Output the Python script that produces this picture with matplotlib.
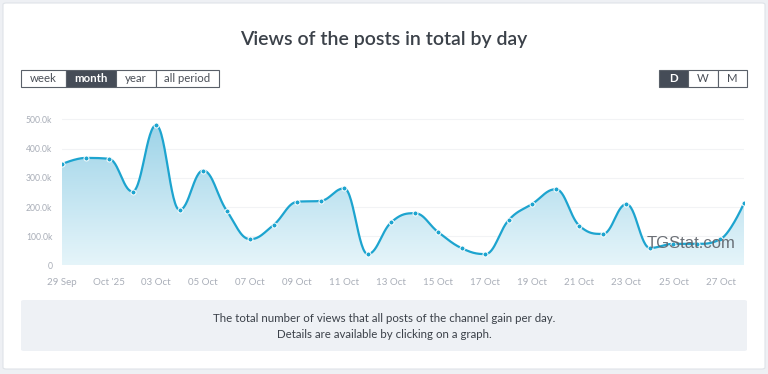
import numpy as np
import matplotlib
matplotlib.use("Agg")
import matplotlib.pyplot as plt
from matplotlib.patches import FancyBboxPatch, Rectangle, PathPatch
from matplotlib.path import Path

# ---- data ----
days = list(range(30))  # 29 Sep .. 28 Oct
views_k = [347, 368, 365, 253, 480, 190, 325, 188, 90, 139,
           218, 221, 264, 39, 148, 179, 114, 59, 39, 156,
           211, 261, 136, 108, 210, 60, 74, 74, 90, 213]
tick_days = [0, 2, 4, 6, 8, 10, 12, 14, 16, 18, 20, 22, 24, 26, 28]
tick_labels = ["29 Sep", "Oct '25", "03 Oct", "05 Oct", "07 Oct", "09 Oct", "11 Oct",
               "13 Oct", "15 Oct", "17 Oct", "19 Oct", "21 Oct", "23 Oct", "25 Oct", "27 Oct"]
y_ticks = [0, 100, 200, 300, 400, 500]
y_labels = ["0", "100.0k", "200.0k", "300.0k", "400.0k", "500.0k"]
period_buttons = ["week", "month", "year", "all period"]
scale_buttons = ["D", "W", "M"]

W, H = 768, 374
FONT = "Lato"
plt.rcParams['font.family'] = [FONT, 'DejaVu Sans']

fig = plt.figure(figsize=(W / 100, H / 100), dpi=100)
fig.patch.set_facecolor("#eef0f4")


def fx(x):
    return x / W


def fy(y):
    return 1 - y / H


# card
card = FancyBboxPatch((fx(3), fy(369)), fx(762), (366) / H,
                      boxstyle="round,pad=0,rounding_size=0.004",
                      transform=fig.transFigure, facecolor="white",
                      edgecolor="#dfe3e8", linewidth=0.8, zorder=-2)
fig.patches.append(card)

fig.text(0.5, fy(40), "Views of the posts in total by day", ha="center", va="center",
         fontsize=14, color="#3b4149", fontweight="semibold")


def button_row(edges, labels, active_label):
    for i, lab in enumerate(labels):
        active = (lab == active_label)
        r = Rectangle((fx(edges[i]), fy(87)), fx(edges[i + 1] - edges[i]), 17 / H,
                      transform=fig.transFigure,
                      facecolor="#454c57" if active else "white", edgecolor="#5a6069",
                      linewidth=0.8, zorder=-1)
        fig.patches.append(r)
        fig.text(fx((edges[i] + edges[i + 1]) / 2), fy(78.5), lab, ha="center", va="center",
                 fontsize=8.2, color="white" if active else "#4a4f57",
                 fontweight="bold" if active else "normal")


button_row([21, 66, 116, 156, 219], period_buttons, "month")
button_row([659, 688, 718, 747], scale_buttons, "D")

# info box
info = FancyBboxPatch((fx(21), fy(351)), fx(726), 51 / H,
                      boxstyle="round,pad=0,rounding_size=0.004",
                      transform=fig.transFigure, facecolor="#eef1f5",
                      edgecolor="none", zorder=-1)
fig.patches.append(info)
fig.text(0.5, fy(318), "The total number of views that all posts of the channel gain per day.",
         ha="center", va="center", fontsize=8.3, color="#3b4149")
fig.text(0.5, fy(334), "Details are available by clicking on a graph.",
         ha="center", va="center", fontsize=8.3, color="#3b4149")

# ---- chart ----
ax = fig.add_axes([fx(62), fy(265.5), fx(744 - 62), (265.5 - 110) / H])
ax.set_xlim(0, 29)
ax.set_ylim(0, 532)
ax.set_facecolor("none")
for s in ax.spines.values():
    s.set_visible(False)
ax.set_yticks(y_ticks)
ax.set_yticklabels(y_labels)
ax.set_xticks(tick_days)
ax.set_xticklabels(tick_labels)
ax.tick_params(axis="y", length=0, pad=7, labelsize=6.2, labelcolor="#a9aeb8")
ax.tick_params(axis="x", length=0, pad=9, labelsize=7, labelcolor="#a9aeb8")
for yt in y_ticks[1:]:
    ax.axhline(yt, color="#f2f3f5", linewidth=0.8, zorder=0)


# Highcharts-like spline
def spline_path(xs, ys, smoothing=1.5, n=30):
    xs = np.asarray(xs, float)
    ys = np.asarray(ys, float)
    N = len(xs)
    lc = [None] * N
    rc = [None] * N
    denom = smoothing + 1
    for i in range(1, N - 1):
        px_, py_ = xs[i], ys[i]
        lx, ly = xs[i - 1], ys[i - 1]
        nx, ny = xs[i + 1], ys[i + 1]
        lcx = (smoothing * px_ + lx) / denom
        lcy = (smoothing * py_ + ly) / denom
        rcx = (smoothing * px_ + nx) / denom
        rcy = (smoothing * py_ + ny) / denom
        corr = 0
        if rcx != lcx:
            corr = ((rcy - lcy) * (rcx - px_)) / (rcx - lcx) + py_ - rcy
        lcy += corr
        rcy += corr
        if lcy > ly and lcy > py_:
            lcy = max(ly, py_)
            rcy = 2 * py_ - lcy
        elif lcy < ly and lcy < py_:
            lcy = min(ly, py_)
            rcy = 2 * py_ - lcy
        if rcy > ny and rcy > py_:
            rcy = max(ny, py_)
            lcy = 2 * py_ - rcy
        elif rcy < ny and rcy < py_:
            rcy = min(ny, py_)
            lcy = 2 * py_ - rcy
        lc[i] = (lcx, lcy)
        rc[i] = (rcx, rcy)
    outx, outy = [xs[0]], [ys[0]]
    t = np.linspace(0, 1, n)[1:]
    for i in range(1, N):
        p0 = np.array([xs[i - 1], ys[i - 1]])
        p3 = np.array([xs[i], ys[i]])
        p1 = np.array(rc[i - 1]) if rc[i - 1] is not None else p0
        p2 = np.array(lc[i]) if lc[i] is not None else p3
        b = ((1 - t) ** 3)[:, None] * p0 + (3 * (1 - t) ** 2 * t)[:, None] * p1 + \
            (3 * (1 - t) * t ** 2)[:, None] * p2 + (t ** 3)[:, None] * p3
        outx.extend(b[:, 0])
        outy.extend(b[:, 1])
    return np.array(outx), np.array(outy)


cx, cy = spline_path(days, views_k)

# gradient fill
verts = np.vstack([np.column_stack([cx, cy]), [[cx[-1], 0], [cx[0], 0], [cx[0], cy[0]]]])
poly = PathPatch(Path(verts, closed=True), facecolor="none", edgecolor="none",
                 transform=ax.transData)
ax.add_patch(poly)
top = np.array([0.62, 0.83, 0.91])
bot = np.array([0.90, 0.96, 0.98])
grad = np.linspace(0, 1, 256)[:, None]
img = top[None, None, :] * (1 - grad[:, :, None]) + bot[None, None, :] * grad[:, :, None]
im = ax.imshow(img, extent=[0, 29, 0, 480], origin="upper", aspect="auto", zorder=1)
im.set_clip_path(poly)
ax.set_xlim(0, 29)
ax.set_ylim(0, 532)

ax.plot(cx, cy, color="#1da4cf", linewidth=1.6, zorder=3, solid_capstyle="round")
ax.plot(days, views_k, "o", color="#1da4cf", markersize=3.6, markeredgecolor="white",
        markeredgewidth=0.7, zorder=4)

fig.text(fx(691.5), fy(243), "TGStat.com", ha="center", va="center", fontsize=12,
         color="#5c6168", alpha=0.9, family=["Liberation Sans", "DejaVu Sans"], zorder=10)

fig.savefig("out.png", dpi=100, facecolor=fig.get_facecolor())
